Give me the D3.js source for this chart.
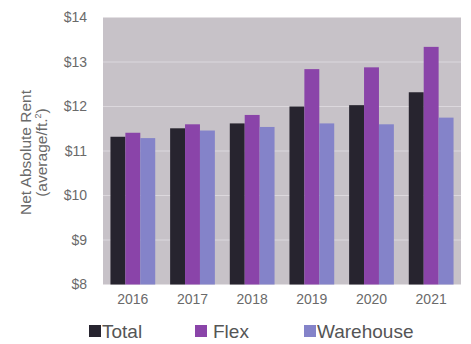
<!DOCTYPE html>
<html>
<head>
<meta charset="utf-8">
<script src="https://cdn.jsdelivr.net/npm/d3@7/dist/d3.min.js"></script>
<style>
  html, body { margin: 0; padding: 0; background: #fff; }
  svg { display: block; font-family: "Liberation Sans", Arial, sans-serif; }
</style>
</head>
<body>
<svg id="chart" width="471" height="344"></svg>
<script>
// Net absolute rent by year, in dollars per square foot
const years = ["2016", "2017", "2018", "2019", "2020", "2021"];
const seriesNames = ["Total", "Flex", "Warehouse"];
const totalValues = [11.32, 11.51, 11.62, 12.00, 12.03, 12.32];
const flexValues = [11.41, 11.60, 11.81, 12.84, 12.88, 13.34];
const warehouseValues = [11.29, 11.46, 11.54, 11.62, 11.60, 11.75];
const yTicks = [8, 9, 10, 11, 12, 13, 14];
const seriesColors = ["#27242f", "#8a44a9", "#8483c9"];

const series = [totalValues, flexValues, warehouseValues];

const svg = d3.select("#chart");
const margin = { left: 103, right: 10, top: 17.5, bottom: 59.5 };
const W = 471, H = 344;
const innerW = W - margin.left - margin.right;
const innerH = H - margin.top - margin.bottom;

const g = svg.append("g").attr("transform", `translate(${margin.left},${margin.top})`);

const x = d3.scaleBand().domain(years).range([0, innerW]).paddingInner(0.25).paddingOuter(0.125);
const xs = d3.scaleBand().domain(seriesNames).range([0, x.bandwidth()]);
const y = d3.scaleLinear().domain([8, 14]).range([innerH, 0]);

// plot background
g.append("rect").attr("width", innerW).attr("height", innerH).attr("fill", "#c7c2c8");

// horizontal gridlines
g.selectAll("line.grid").data(yTicks.slice(1, -1)).join("line")
  .attr("class", "grid")
  .attr("x1", 0).attr("x2", innerW)
  .attr("y1", d => y(d)).attr("y2", d => y(d))
  .attr("stroke", "#dcd8dd").attr("stroke-width", 1.2);

// bars
const groups = g.selectAll("g.year").data(years).join("g")
  .attr("class", "year")
  .attr("transform", d => `translate(${x(d)},0)`);

groups.selectAll("rect").data((d, i) => seriesNames.map((s, k) => ({ s, k, v: series[k][i] }))).join("rect")
  .attr("x", d => xs(d.s))
  .attr("width", xs.bandwidth())
  .attr("y", d => y(d.v))
  .attr("height", d => y(8) - y(d.v))
  .attr("fill", d => seriesColors[d.k]);

// y axis
const yAxis = g.append("g").call(d3.axisLeft(y).tickValues(yTicks).tickFormat(d => "$" + d).tickSize(0).tickPadding(16));
yAxis.select(".domain").remove();
yAxis.selectAll("text").attr("font-size", 14).attr("fill", "#6a6a6a").attr("font-family", "Liberation Sans, Arial, sans-serif");

// x axis
const xAxis = g.append("g").attr("transform", `translate(0,${innerH})`)
  .call(d3.axisBottom(x).tickSize(0).tickPadding(10));
xAxis.select(".domain").remove();
xAxis.selectAll("text").attr("font-size", 14).attr("fill", "#6a6a6a").attr("font-family", "Liberation Sans, Arial, sans-serif");

// y axis title
const yTitle = svg.append("text")
  .attr("transform", "translate(31,152.5) rotate(-90)")
  .attr("text-anchor", "middle")
  .attr("fill", "#6a6a6a")
  .attr("font-size", 15.5);
yTitle.append("tspan").attr("x", 0).attr("dy", 0).text("Net Absolute Rent");
yTitle.append("tspan").attr("x", 0).attr("dy", 16).text("(average/ft.")
  .append("tspan").attr("font-size", 9).attr("dy", -6).text("2");
yTitle.append("tspan").attr("dy", 6).text(")");

// legend
const legendPos = [{ sq: 89, tx: 102 }, { sq: 195, tx: 213 }, { sq: 304, tx: 317 }];
const legend = svg.selectAll("g.legend").data(seriesNames).join("g").attr("class", "legend");
legend.append("rect")
  .attr("x", (d, i) => legendPos[i].sq).attr("y", 325)
  .attr("width", 12).attr("height", 12)
  .attr("fill", (d, i) => seriesColors[i]);
legend.append("text")
  .attr("x", (d, i) => legendPos[i].tx).attr("y", 338)
  .attr("font-size", 19).attr("fill", "#555")
  .text(d => d);
</script>
</body>
</html>
